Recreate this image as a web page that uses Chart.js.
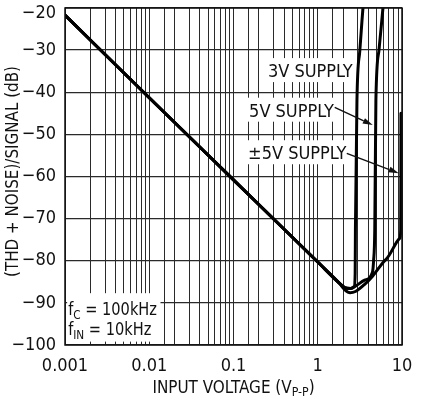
<!DOCTYPE html>
<html><head><meta charset="utf-8">
<script src="https://cdn.jsdelivr.net/npm/chart.js@4/dist/chart.umd.min.js"></script>
<style>html,body{margin:0;padding:0;background:#fff}</style>
</head><body>
<canvas id="c" width="435" height="399"></canvas>
<script>
const FONT = "'Liberation Sans Narrow','Arial Narrow','DejaVu Sans Condensed','Liberation Sans',sans-serif";
const TXT = '#111';

// ---- data ----
const xTickValues = [0.001, 0.01, 0.1, 1, 10];
const xTickLabels = ['0.001', '0.01', '0.1', '1', '10'];
const yTickValues = [-20, -30, -40, -50, -60, -70, -80, -90, -100];
const yTickLabels = ['\u221220', '\u221230', '\u221240', '\u221250', '\u221260', '\u221270', '\u221280', '\u221290', '\u2212100'];

// shared low-level part (all supplies)
const mainVolts = [0.001, 0.01, 0.1, 1.0, 1.8];
const mainDb    = [-21.7, -41.3, -60.8, -80.3, -85.3];
// 3V supply tail
const v3Volts = [2.1, 2.45, 2.72, 2.78, 2.8, 2.92, 3.16, 3.44];
const v3Db    = [-86.4, -86.6, -86.1, -83, -72.7, -41.8, -30, -20];
// 5V supply tail
const v5Volts = [2.1, 2.45, 2.77, 3.6, 4.45, 4.6, 4.75, 4.9, 5.33, 5.94];
const v5Db    = [-86.4, -86.6, -86.1, -84.6, -82.8, -80, -72.7, -41.8, -30, -20];
// ±5V supply tail
const pm5Volts = [2.1, 2.42, 2.8, 3.6, 4.5, 6.5, 9.47, 9.65, 9.72];
const pm5Db    = [-86.9, -87.6, -87.3, -85.6, -83.6, -79.6, -74.6, -72.5, -45];

const seriesNames = ['3V SUPPLY', '5V SUPPLY', '\u00B15V SUPPLY'];

function pts(xs, ys) { return xs.map((x, i) => ({ x: x, y: ys[i] })); }
const main = pts(mainVolts, mainDb);
function mk(label, tailX, tailY) {
  return {
    label: label,
    data: main.concat(pts(tailX, tailY)),
    borderColor: '#000', borderWidth: 3, pointRadius: 0,
    cubicInterpolationMode: 'monotone', fill: false,
    borderJoinStyle: 'round', borderCapStyle: 'round'
  };
}

// ---- annotation placement (data coordinates) ----
const labelPlace = [
  { text: seriesNames[0], x: 0.815, y: -36.4 },
  { text: seriesNames[1], x: 0.487, y: -45.8, arrow: [1.59, -43.6, 4.5, -47.8] },
  { text: seriesNames[2], x: 0.571, y: -55.9, arrow: [2.21, -54.5, 9.15, -59.2] }
];

function richWidth(ctx, parts, size, subSize) {
  let w = 0;
  for (const p of parts) {
    ctx.font = (p.sub ? subSize : size) + 'px ' + FONT;
    w += ctx.measureText(p.t).width;
  }
  return w;
}
function drawRich(ctx, parts, x, y, size, subSize, subDrop, align, sx) {
  sx = sx || 1;
  const w = richWidth(ctx, parts, size, subSize) * sx;
  let cx = align === 'center' ? x - w / 2 : x;
  ctx.save();
  ctx.translate(cx, y);
  ctx.scale(sx, 1);
  ctx.textAlign = 'left';
  ctx.textBaseline = 'alphabetic';
  let ox = 0;
  for (const p of parts) {
    ctx.font = (p.sub ? subSize : size) + 'px ' + FONT;
    ctx.fillText(p.t, ox, p.sub ? subDrop : 0);
    ox += ctx.measureText(p.t).width;
  }
  ctx.restore();
}

const annot = {
  id: 'annot',
  beforeDatasetsDraw(chart) {
    const ctx = chart.ctx, xs = chart.scales.x, ys = chart.scales.y;
    ctx.save();
    ctx.fillStyle = '#fff';
    ctx.font = '18px ' + FONT;
    for (const L of labelPlace) {
      const w = ctx.measureText(L.text).width;
      const px = xs.getPixelForValue(L.x), py = ys.getPixelForValue(L.y);
      ctx.fillRect(px - w / 2 - 4, py - 19, w + 8, 24);
    }
    // conditions box
    const bx = xs.getPixelForValue(0.00106), by = ys.getPixelForValue(-87.7);
    const bx2 = xs.getPixelForValue(0.0136), by2 = ys.getPixelForValue(-99.2);
    ctx.fillRect(bx, by, bx2 - bx, by2 - by);
    ctx.restore();
  },
  afterDatasetsDraw(chart) {
    const ctx = chart.ctx, xs = chart.scales.x, ys = chart.scales.y, a = chart.chartArea;
    ctx.save();
    ctx.fillStyle = TXT;
    ctx.strokeStyle = TXT;
    ctx.font = '18px ' + FONT;
    ctx.textAlign = 'center';
    ctx.textBaseline = 'alphabetic';
    for (const L of labelPlace) {
      ctx.fillText(L.text, xs.getPixelForValue(L.x), ys.getPixelForValue(L.y));
      if (L.arrow) {
        const x1 = xs.getPixelForValue(L.arrow[0]), y1 = ys.getPixelForValue(L.arrow[1]);
        const x2 = xs.getPixelForValue(L.arrow[2]), y2 = ys.getPixelForValue(L.arrow[3]);
        const ang = Math.atan2(y2 - y1, x2 - x1), hl = 10, hw = 3;
        const bxp = x2 - hl * Math.cos(ang), byp = y2 - hl * Math.sin(ang);
        ctx.lineWidth = 1.4;
        ctx.beginPath(); ctx.moveTo(x1, y1); ctx.lineTo(bxp, byp); ctx.stroke();
        ctx.beginPath();
        ctx.moveTo(x2, y2);
        ctx.lineTo(bxp + hw * Math.sin(ang), byp - hw * Math.cos(ang));
        ctx.lineTo(bxp - hw * Math.sin(ang), byp + hw * Math.cos(ang));
        ctx.closePath(); ctx.fill();
      }
    }
    // test conditions
    const tx = xs.getPixelForValue(0.00106) + 1;
    drawRich(ctx, [{ t: 'f' }, { t: 'C', sub: true }, { t: ' = 100kHz' }], tx, ys.getPixelForValue(-92.9), 18, 13, 4, 'left', 0.9);
    drawRich(ctx, [{ t: 'f' }, { t: 'IN', sub: true }, { t: ' = 10kHz' }], tx, ys.getPixelForValue(-97.6), 18, 13, 4, 'left', 0.9);
    // frame
    ctx.lineWidth = 1.5;
    ctx.strokeStyle = '#111';
    ctx.strokeRect(a.left, a.top, a.right - a.left, a.bottom - a.top);
    // axis titles
    drawRich(ctx, [{ t: 'INPUT VOLTAGE (V' }, { t: 'P-P', sub: true }, { t: ')' }], (a.left + a.right) / 2, a.bottom + 48, 18, 13, 3, 'center', 0.94);
    ctx.save();
    ctx.translate(18, (a.top + a.bottom) / 2 - 5);
    ctx.rotate(-Math.PI / 2);
    ctx.scale(0.935, 1);
    ctx.font = '18px ' + FONT;
    ctx.textAlign = 'center';
    ctx.textBaseline = 'alphabetic';
    ctx.fillText('(THD + NOISE)/SIGNAL (dB)', 0, 0);
    ctx.restore();
    ctx.restore();
  }
};

new Chart(document.getElementById('c'), {
  type: 'line',
  data: {
    datasets: [
      mk(seriesNames[0], v3Volts, v3Db),
      mk(seriesNames[1], v5Volts, v5Db),
      mk(seriesNames[2], pm5Volts, pm5Db)
    ]
  },
  options: {
    responsive: false,
    animation: false,
    devicePixelRatio: 1,
    layout: { padding: { top: 8, right: 33, left: 0, bottom: 0 } },
    plugins: { legend: { display: false }, tooltip: { enabled: false } },
    scales: {
      x: {
        type: 'logarithmic', min: 0.001, max: 10,
        grid: { color: '#2a2a2a', lineWidth: 1, drawTicks: false },
        border: { display: false },
        afterFit(s) { s.height = 54; s.paddingLeft = 0; s.paddingRight = 0; },
        ticks: {
          autoSkip: false, maxRotation: 0, minRotation: 0, padding: 11,
          color: TXT, font: { family: FONT, size: 18 },
          callback(v) {
            for (let i = 0; i < xTickValues.length; i++) {
              if (Math.abs(v / xTickValues[i] - 1) < 1e-6) return xTickLabels[i];
            }
            return '';
          }
        }
      },
      y: {
        type: 'linear', min: -100, max: -20,
        grid: { color: '#2a2a2a', lineWidth: 1.3, drawTicks: false },
        border: { display: false },
        afterFit(s) { s.width = 65; s.paddingTop = 0; s.paddingBottom = 0; },
        ticks: {
          stepSize: 10, padding: 9, color: TXT,
          font(c) {
            const top = c.tick && Math.round(c.tick.value) === -20;
            return { family: FONT, size: 18, lineHeight: top ? 0.55 : 1.2 };
          },
          callback(v) {
            const i = yTickValues.indexOf(Math.round(v));
            if (i < 0) return '';
            return i === 0 ? ['', yTickLabels[i]] : yTickLabels[i];
          }
        }
      }
    }
  },
  plugins: [annot]
});
</script>
</body></html>
